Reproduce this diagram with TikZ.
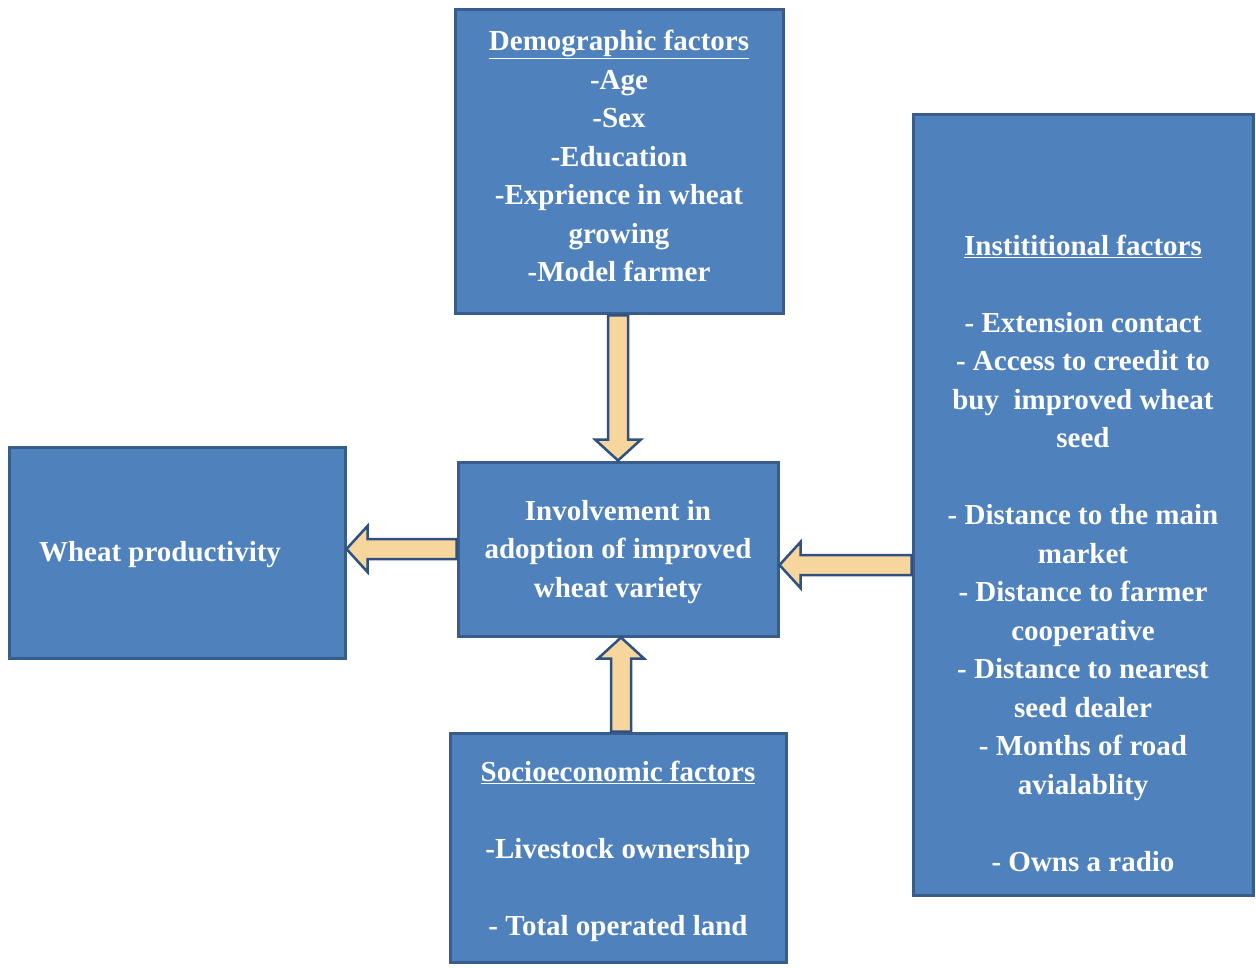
\documentclass[tikz,border=0pt]{standalone}
\usepackage{fontspec}
\setmainfont{Liberation Serif}
\usetikzlibrary{calc}
\definecolor{boxfill}{HTML}{4F81BD}
\definecolor{boxline}{HTML}{385D8A}
\definecolor{arrfill}{HTML}{F6D69C}
\definecolor{arrline}{HTML}{2F5080}
\tikzset{
  box/.style={draw=boxline, line width=3pt, fill=boxfill, inner sep=0pt, anchor=center},
  lbl/.style={text=white, font=\bfseries\fontsize{29}{38.5}\selectfont, align=center, inner sep=0pt},
  fatarrow/.style={draw=arrline, line width=2.5pt, fill=arrfill, line join=miter,
    to path={($(\tikztostart)!10pt!-90:(\tikztotarget)$)
      -- ($(\tikztotarget)!21pt!(\tikztostart)!10pt!90:(\tikztostart)$)
      -- ($(\tikztotarget)!21pt!(\tikztostart)!23pt!90:(\tikztostart)$)
      -- (\tikztotarget)
      -- ($(\tikztotarget)!21pt!(\tikztostart)!23pt!-90:(\tikztostart)$)
      -- ($(\tikztotarget)!21pt!(\tikztostart)!10pt!-90:(\tikztostart)$)
      -- ($(\tikztostart)!10pt!90:(\tikztotarget)$) -- cycle}}
}
\begin{document}
\begin{tikzpicture}[x=1pt,y=-1pt]
\useasboundingbox (0,0) rectangle (1256,968);
\node[box, minimum width=328pt, minimum height=304pt] (demo) at (619,162) {};
\node[lbl] (demotext) at (619,156)
  {\underline{Demographic factors}\\-Age\\-Sex\\-Education\\-Exprience in wheat\\growing\\-Model farmer};
\node[box, minimum width=340pt, minimum height=780pt] (inst) at (1083,505) {};
\node[lbl] (insttext) at (1083,553)
  {\underline{Instititional factors}\\[38.5pt]- Extension contact\\- Access to creedit to\\buy\ \ improved wheat\\seed\\[38.5pt]- Distance to the main\\market\\- Distance to farmer\\cooperative\\- Distance to nearest\\seed dealer\\- Months of road\\avialablity\\[38.5pt]- Owns a radio};
\node[box, minimum width=336pt, minimum height=211pt] (wheat) at (177,552.5) {};
\node[lbl] (wheattext) at (160,555) {Wheat productivity};
\node[box, minimum width=320pt, minimum height=174pt] (inv) at (618,549) {};
\node[lbl] (invtext) at (618,552) {Involvement in\\adoption of improved\\wheat variety};
\node[box, minimum width=336pt, minimum height=229pt] (socio) at (618,847.5) {};
\node[lbl] (sociotext) at (618,851)
  {\underline{Socioeconomic factors}\\[38.5pt]-Livestock ownership\\[38.5pt]- Total operated land};
\coordinate (dtop) at ([xshift=-1pt]demo.south);
\draw[fatarrow] (dtop) to (dtop |- inv.north);
\coordinate (sbot) at ([xshift=3pt]socio.north);
\draw[fatarrow] (sbot) to (sbot |- inv.south);
\draw[fatarrow] (inv.west) to (inv.west -| wheat.east);
\coordinate (invr) at ([yshift=-16pt]inv.east);
\draw[fatarrow] (inst.west |- invr) to (invr);
\end{tikzpicture}
\end{document}
